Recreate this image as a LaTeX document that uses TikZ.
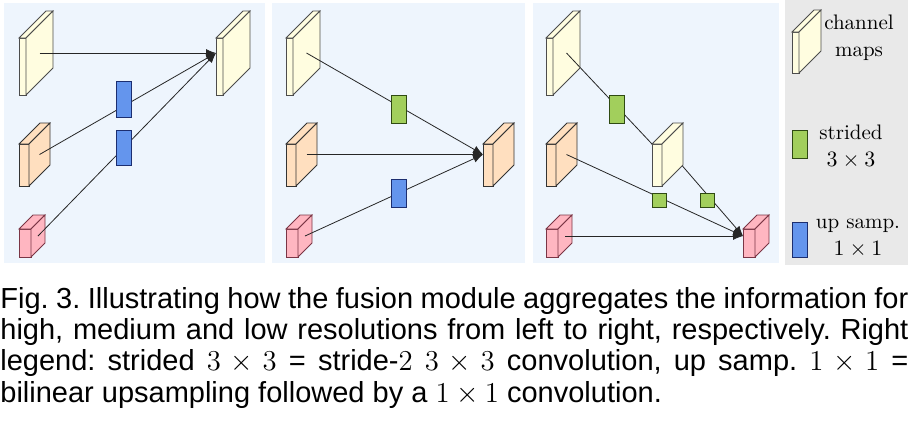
\documentclass[tikz,border=0pt]{standalone}
\usepackage{fontspec}
\usetikzlibrary{calc,arrows.meta}
\newfontfamily\capfont{Liberation Sans}
\definecolor{panelbg}{HTML}{EEF5FD}
\definecolor{legbg}{HTML}{E9E9E9}
\definecolor{hmapc}{HTML}{FFFDE0}
\definecolor{mmapc}{HTML}{FFDFBF}
\definecolor{lmapc}{HTML}{FFB6C1}
\definecolor{lmapd}{HTML}{7A3545}
\definecolor{upc}{HTML}{6495ED}
\definecolor{upd}{HTML}{1C2E70}
\definecolor{strc}{HTML}{A2CF5C}
\definecolor{strd}{HTML}{2F4A12}
\pgfdeclarelayer{top}
\pgfsetlayers{main,top}

% channel map: name, front top-left, width, height, depth, style
\newcommand{\chmap}[6]{%
  \node[#6,inner sep=0,outer sep=0,anchor=north west,
    minimum width=#3*0.5pt,minimum height=#4*0.5pt] (#1) at #2 {};
  \draw[#6] (#1.north west) -- ++(#5,-#5) -- ++(#3,0) -- (#1.north east) -- cycle;
  \draw[#6] (#1.north east) -- ++(#5,-#5) -- ++(0,#4) -- (#1.south east) -- cycle;
  \coordinate (#1-c) at ($(#1.east)+(#5/2,-#5/2)$);
  \coordinate (#1-in) at ($(#1.west)+(0,-#5/2)$);
}

\begin{document}
\begin{tikzpicture}[x=0.5pt,y=-0.5pt,
    hmap/.style={fill=hmapc,draw=black!70},
    mmap/.style={fill=mmapc,draw=black!80},
    lmap/.style={fill=lmapc,draw=lmapd},
    upbox/.style={fill=upc,draw=upd,inner sep=0,minimum width=7.5pt,minimum height=14pt},
    strbox/.style={fill=strc,draw=strd,inner sep=0,minimum width=7.5pt,minimum height=14pt},
    conn/.style={draw=black!85,-{Latex[length=5pt,width=4pt]}},
    lbl/.style={align=center,font=\fontsize{10.5}{13.5}\selectfont}]

  \useasboundingbox (0,0) rectangle (908,420);
  \fill[panelbg] (4,3) rectangle (265,263);
  \fill[panelbg] (272,3) rectangle (525,263);
  \fill[panelbg] (533,3) rectangle (779,263);
  \fill[legbg] (785,0) rectangle (908,265);

  % high
  \chmap{h1}{(19,38)}{7}{57}{27}{hmap}
  \chmap{m1}{(19,144)}{10}{42}{21}{mmap}
  \chmap{l1}{(19,229)}{12}{28}{14}{lmap}
  \chmap{t1}{(216,38)}{7}{57}{27}{hmap}
  \draw[conn] (h1-c) -- (t1-in);
  \draw[conn] (m1-c) -- (t1-in);
  \draw[conn] (l1-c) -- (t1-in);

  % medium
  \chmap{h2}{(286,38)}{7}{57}{27}{hmap}
  \chmap{m2}{(286,144)}{10}{42}{21}{mmap}
  \chmap{l2}{(286,229)}{12}{28}{14}{lmap}
  \chmap{t2}{(483,144)}{10}{42}{21}{mmap}
  \draw[conn] (h2-c) -- (t2-in);
  \draw[conn] (m2-c) -- (t2-in);
  \draw[conn] (l2-c) -- (t2-in);

  % low
  \chmap{h3}{(546,38)}{7}{57}{27}{hmap}
  \chmap{m3}{(546,144)}{10}{42}{21}{mmap}
  \chmap{l3}{(546,229)}{12}{28}{14}{lmap}
  \chmap{t3}{(743,229)}{12}{28}{14}{lmap}

  \begin{pgfonlayer}{top}
    \chmap{hm3}{(652,144)}{10}{42}{21}{hmap}
    \node[upbox,minimum height=18pt] (up1) at (123.5,99) {};
    \node[upbox,minimum height=17.5pt] (up2) at (123.5,147.5) {};
    \node[strbox] (st2) at (398.5,109) {};
    \node[upbox] (up3) at (398.5,193) {};
    \node[strbox] (st3) at (616.5,109) {};
    \node[strbox,minimum width=7pt,minimum height=7pt] (sq1) at (659,200) {};
    \node[strbox,minimum width=7pt,minimum height=7pt] (sq2) at (707.5,200) {};
  \end{pgfonlayer}
  \draw[draw=black!85] (h3-c) -- (hm3.north west);
  \draw[conn] (hm3-c) -- (t3-in);
  \draw[conn] (m3-c) -- (t3-in);
  \draw[conn] (l3-c) -- (t3-in);

  % legend
  \chmap{lg}{(792,32)}{7}{41}{22}{hmap}
  \node[lbl] (lgt1) at (859,38) {channel\\maps};
  \node[strbox] (lgs) at (799.5,144) {};
  \node[lbl] (lgt2) at (851,147) {strided\\$3\times3$};
  \node[upbox,minimum height=17.5pt] (lgu) at (799.5,239.5) {};
  \node[lbl] (lgt3) at (858,238) {up samp.\\$1\times1$};

  % caption
  \node[anchor=north west,inner sep=0,text width=454pt,align=justify,
    font=\capfont\fontsize{14.5}{15.6}\selectfont\frenchspacing] (cap) at (0,287)
    {Fig. 3. Illustrating how the fusion module aggregates the information for\linebreak
     high, medium and low resolutions from left to right, respectively. Right\linebreak
     legend: strided $3\times3$ = stride-$2$ $3\times3$ convolution, up samp. $1\times1$ =\linebreak
     bilinear upsampling followed by a $1\times1$ convolution.};
\end{tikzpicture}
\end{document}
